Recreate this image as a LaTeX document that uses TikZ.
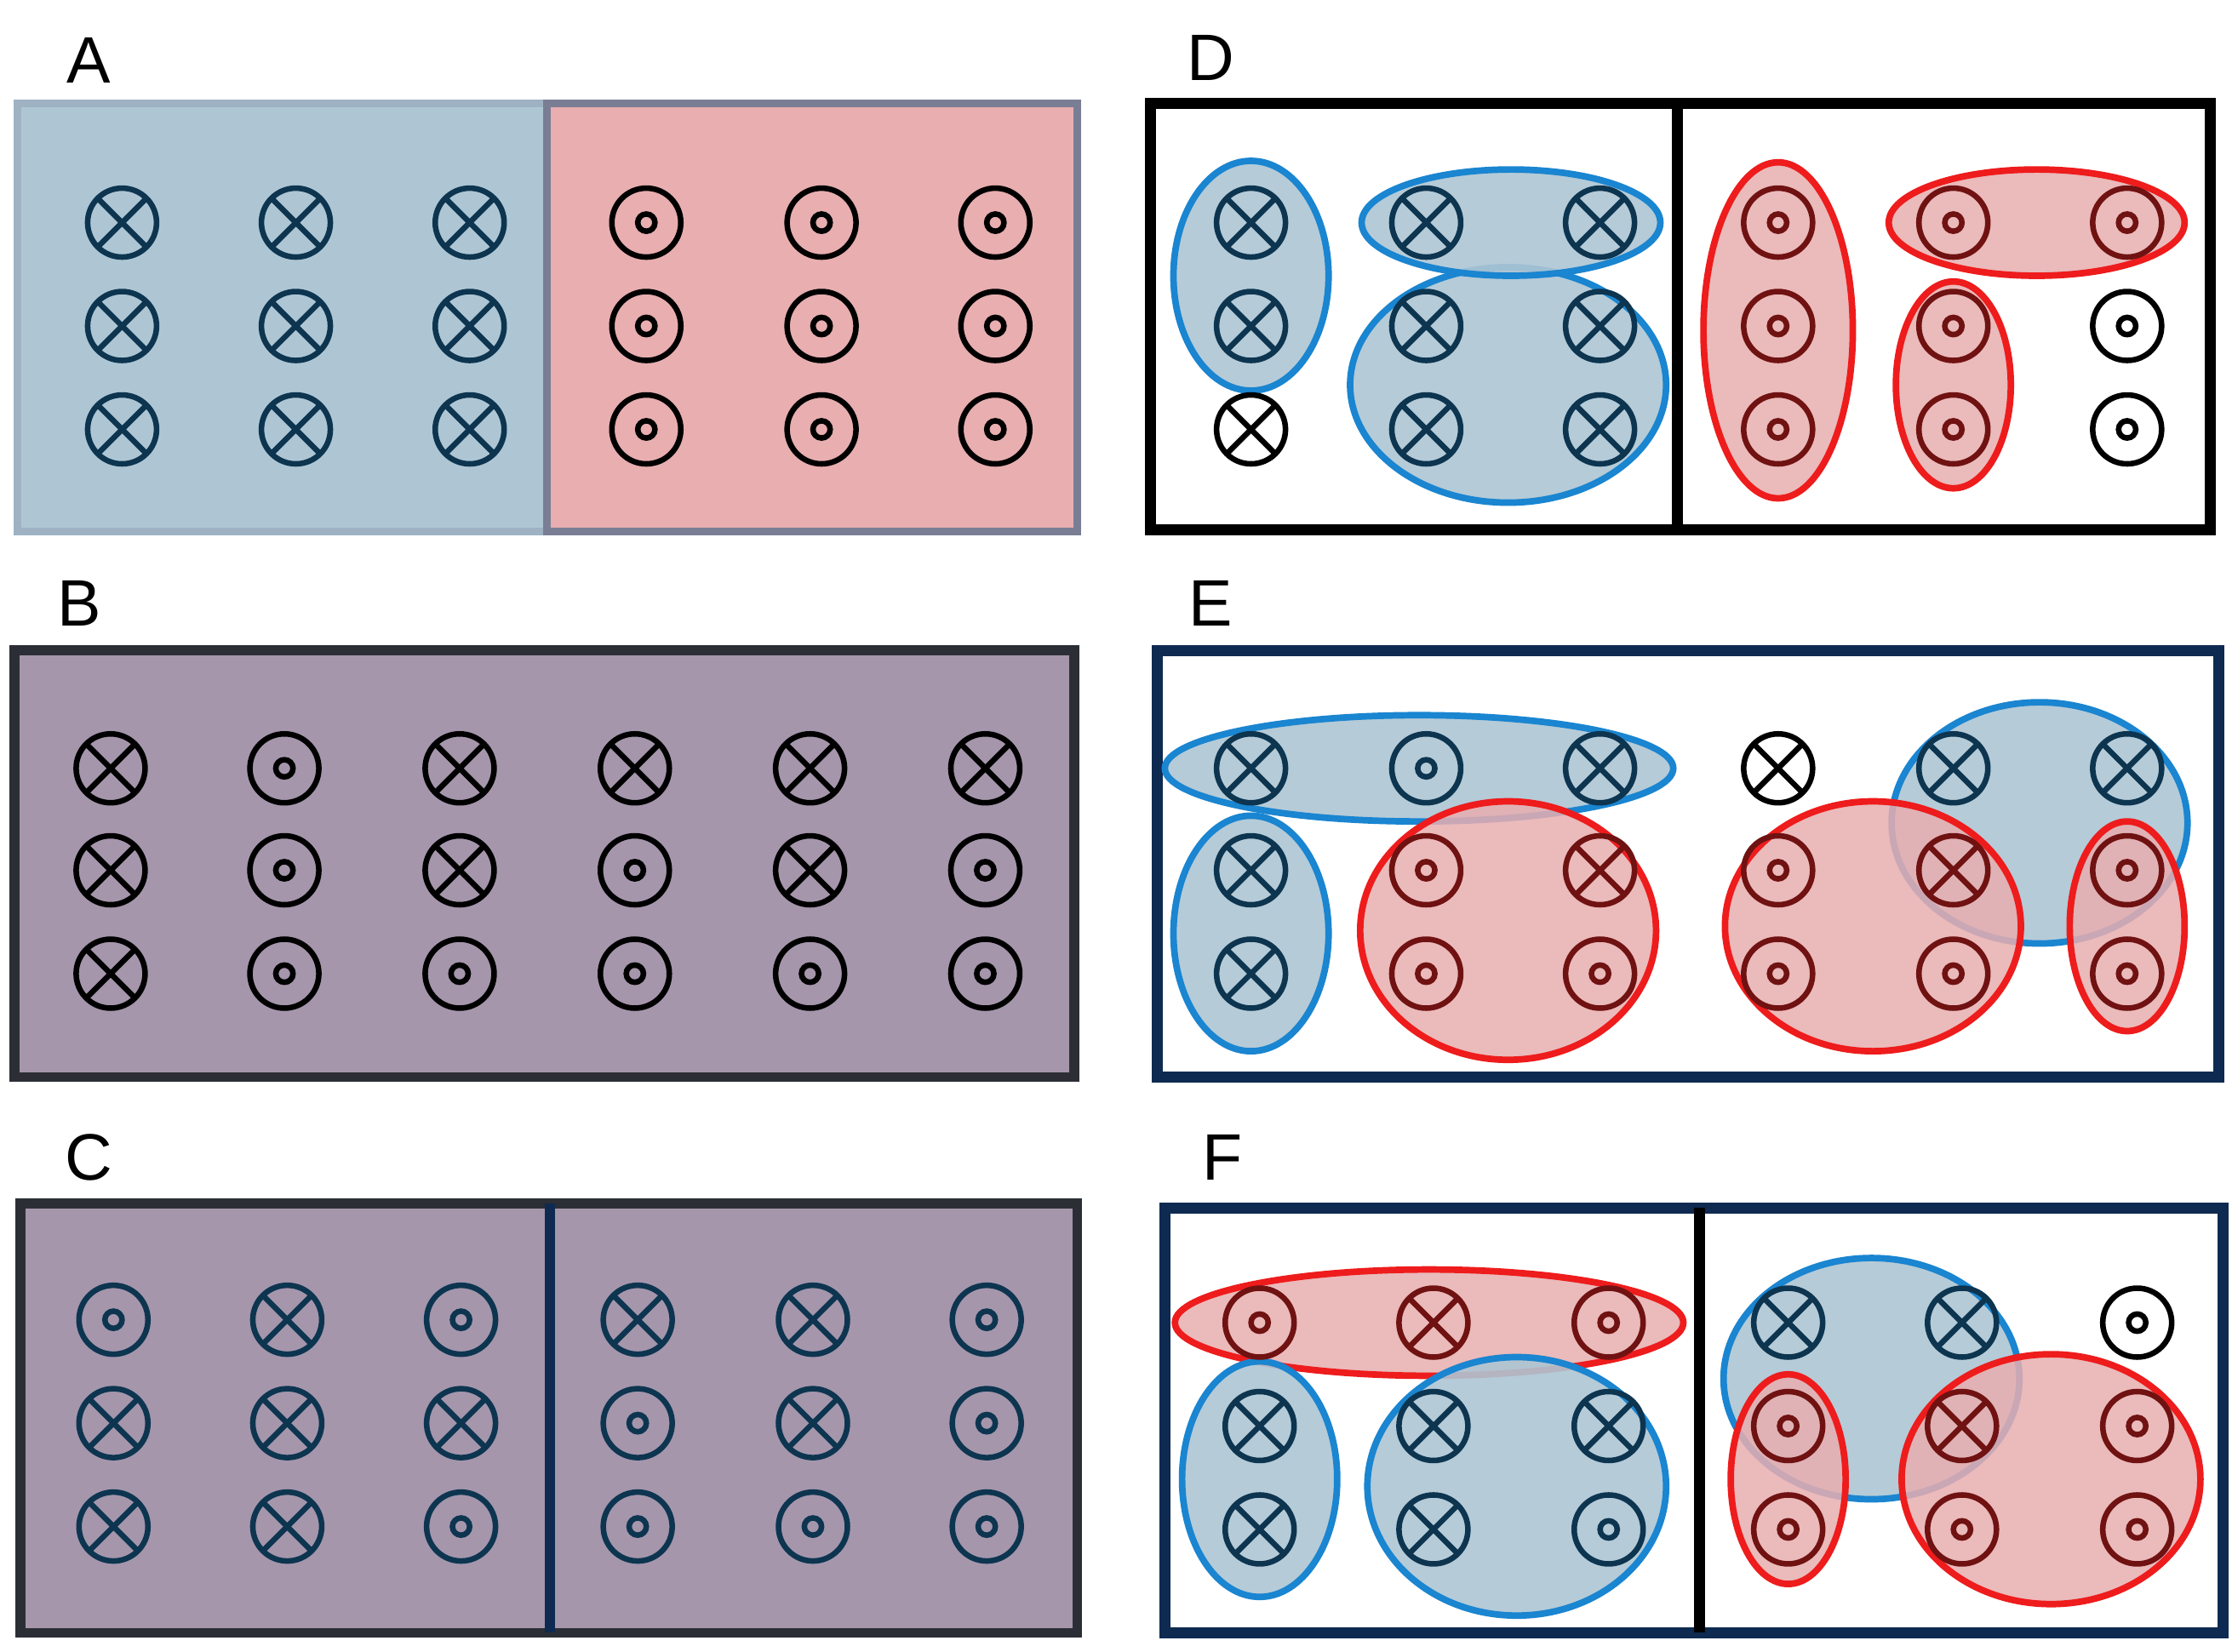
\documentclass[tikz,border=0pt]{standalone}
\usepackage{fontspec}
\setmainfont{Liberation Sans}
\definecolor{bfill}{HTML}{AEC6D4}
\definecolor{bedge}{HTML}{1A85D0}
\definecolor{rfill}{HTML}{E8AEB0}
\definecolor{redge}{HTML}{EE1C1C}
\definecolor{navy}{HTML}{0D3550}
\definecolor{dred}{HTML}{701212}
\definecolor{purp}{HTML}{A596AC}
\definecolor{frame}{HTML}{0E2A50}
\newcommand\SX[3]{\draw[#3,line width=1.1pt] (#1,#2) circle (24) (#1-17,#2-17)--(#1+17,#2+17) (#1-17,#2+17)--(#1+17,#2-17);}
\newcommand\SO[3]{\draw[#3,line width=1.1pt] (#1,#2) circle (24) (#1,#2) circle (6);}
\tikzset{bell/.style={fill=bfill,fill opacity=0.9,draw=bedge,draw opacity=1,line width=1.3pt},
rell/.style={fill=rfill,fill opacity=0.85,draw=redge,draw opacity=1,line width=1.3pt},
lab/.style={font=\fontsize{13}{15}\selectfont}}
\begin{document}
\begin{tikzpicture}[x=0.01cm,y=-0.01cm]
\useasboundingbox (0,0) rectangle (1554,1150);
% labels
\node[lab] at (62,42) {A};\node[lab] at (55,420) {B};\node[lab] at (62,806) {C};
\node[lab] at (843,40) {D};\node[lab] at (843,420) {E};\node[lab] at (851,806) {F};
% A
\fill[bfill] (12,72) rectangle (381,370);\fill[rfill] (381,72) rectangle (750,370);
\draw[line width=1.5pt,color={rgb,255:red,158;green,178;blue,195}] (12,72) rectangle (381,370);
\draw[line width=1.5pt,color={rgb,255:red,122;green,126;blue,149}] (381,72) rectangle (750,370);
\foreach \x in {85,206,327}{\foreach \y in {155,227,299}{\SX{\x}{\y}{navy}}}
\foreach \x in {450,572,693}{\foreach \y in {155,227,299}{\SO{\x}{\y}{black}}}
% B
\draw[fill=purp,draw={rgb,255:red,43;green,47;blue,53},line width=2pt] (10,453) rectangle (748,750);
\foreach \x/\y in {77/535,77/606,77/678,320/535,320/606,442/535,564/535,564/606,686/535}{\SX{\x}{\y}{black}}
\foreach \x/\y in {198/535,198/606,198/678,320/678,442/606,442/678,564/678,686/606,686/678}{\SO{\x}{\y}{black}}
% C
\draw[fill=purp,draw={rgb,255:red,43;green,47;blue,53},line width=2pt] (14,838) rectangle (750,1137);
\draw[frame,line width=2pt] (383,838)--(383,1137);
\foreach \x/\y in {200/919,444/919,566/919,79/991,200/991,321/991,566/991,79/1063,200/1063}{\SX{\x}{\y}{navy}}
\foreach \x/\y in {79/919,321/919,687/919,444/991,687/991,321/1063,444/1063,566/1063,687/1063}{\SO{\x}{\y}{navy}}
% D
\draw[fill=white,line width=2.2pt] (801,72) rectangle (1539,369);
\draw[line width=2.2pt] (1168,72)--(1168,369);
\draw[bell] (871,192) ellipse (54 and 80);
\draw[bell] (1050,268) ellipse (110 and 82);
\draw[bell] (1052,155) ellipse (104 and 37);
\draw[rell] (1238,230) ellipse (52 and 117);
\draw[rell] (1418,155) ellipse (103 and 37);
\draw[rell] (1360,268) ellipse (40 and 72);
\foreach \x/\y in {871/155,871/227,993/155,1114/155,993/227,1114/227,993/299,1114/299}{\SX{\x}{\y}{navy}}
\SX{871}{299}{black}
\foreach \x/\y in {1238/155,1238/227,1238/299,1360/155,1481/155,1360/227,1360/299}{\SO{\x}{\y}{dred}}
\SO{1481}{227}{black}\SO{1481}{299}{black}
% E
\draw[fill=white,draw=frame,line width=2.2pt] (806,453) rectangle (1545,750);
\draw[bell] (988,535) ellipse (177 and 37);
\draw[bell] (1420,573) ellipse (103 and 84);
\draw[bell] (871,650) ellipse (54 and 82);
\draw[rell] (1050,648) ellipse (103 and 90);
\draw[rell] (1304,645) ellipse (103 and 87);
\draw[rell] (1481,645) ellipse (40 and 73);
\SX{871}{535}{navy}\SO{993}{535}{navy}\SX{1114}{535}{navy}
\SX{1238}{535}{black}\SX{1360}{535}{navy}\SX{1481}{535}{navy}
\SX{871}{606}{navy}\SX{871}{678}{navy}
\SO{993}{606}{dred}\SX{1114}{606}{dred}\SO{993}{678}{dred}\SO{1114}{678}{dred}
\SO{1238}{606}{dred}\SX{1360}{606}{dred}\SO{1238}{678}{dred}\SO{1360}{678}{dred}
\SO{1481}{606}{dred}\SO{1481}{678}{dred}
% F
\draw[fill=white,draw=frame,line width=2.2pt] (811,841) rectangle (1548,1137);
\draw[line width=2.2pt] (1183,841)--(1183,1137);
\draw[rell] (995,921) ellipse (177 and 37);
\draw[bell] (1303,960) ellipse (103 and 84);
\draw[bell] (877,1030) ellipse (54 and 82);
\draw[bell] (1056,1035) ellipse (104 and 90);
\draw[rell] (1245,1030) ellipse (40 and 73);
\draw[rell] (1428,1030) ellipse (104 and 87);
\SO{877}{921}{dred}\SX{998}{921}{dred}\SO{1120}{921}{dred}
\SX{1245}{921}{navy}\SX{1366}{921}{navy}\SO{1488}{921}{black}
\SX{877}{993}{navy}\SX{877}{1065}{navy}
\SX{998}{993}{navy}\SX{1120}{993}{navy}\SX{998}{1065}{navy}\SO{1120}{1065}{navy}
\SO{1245}{993}{dred}\SO{1245}{1065}{dred}
\SX{1366}{993}{dred}\SO{1488}{993}{dred}\SO{1366}{1065}{dred}\SO{1488}{1065}{dred}
\end{tikzpicture}
\end{document}
